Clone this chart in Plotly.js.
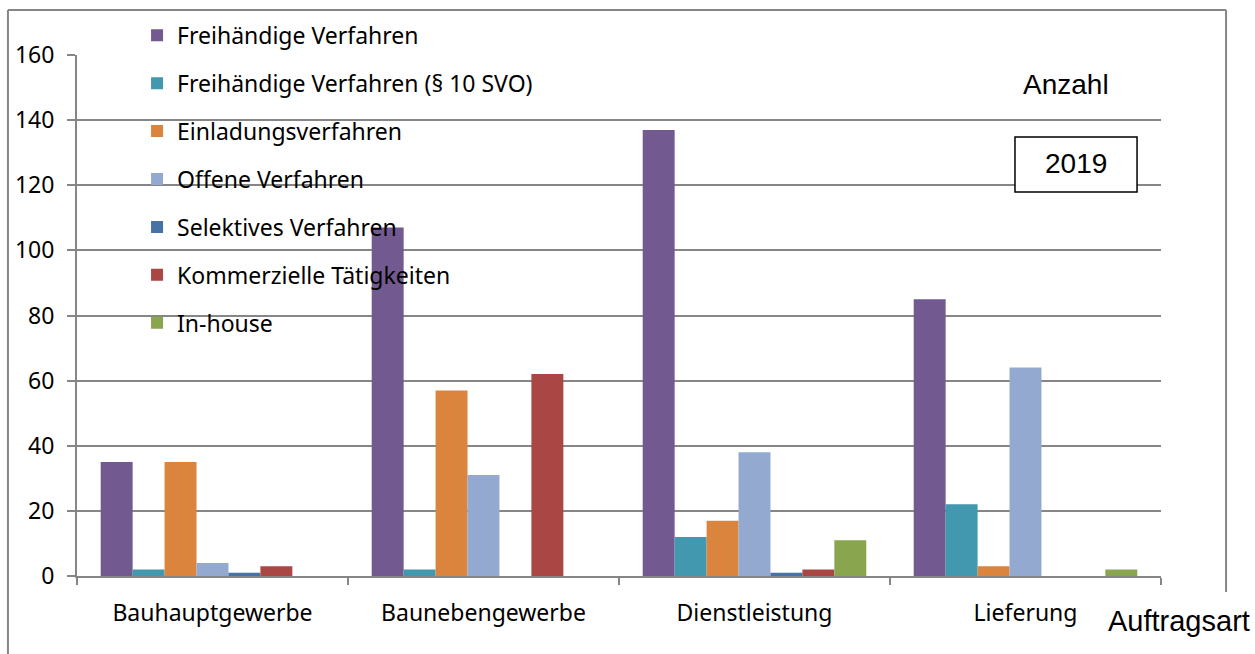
<!DOCTYPE html>
<html>
<head>
<meta charset="utf-8">
<script src="https://cdn.plot.ly/plotly-3.0.1.min.js"></script>
<style>html,body{margin:0;padding:0;background:#fff;}#chart{width:1255px;height:654px;}</style>
</head>
<body>
<div id="chart"></div>
<script>
const categories = ["Bauhauptgewerbe", "Baunebengewerbe", "Dienstleistung", "Lieferung"];
const seriesNames = ["Freihändige Verfahren", "Freihändige Verfahren (§ 10 SVO)", "Einladungsverfahren", "Offene Verfahren", "Selektives Verfahren", "Kommerzielle Tätigkeiten", "In-house"];
const freihaendig = [35, 107, 137, 85];
const freihaendig10 = [2, 2, 12, 22];
const einladung = [35, 57, 17, 3];
const offene = [4, 31, 38, 64];
const selektiv = [1, 0, 1, 0];
const kommerziell = [3, 62, 2, 0];
const inhouse = [0, 0, 11, 2];
const yTicks = [0, 20, 40, 60, 80, 100, 120, 140, 160];
const colors = ["#725990", "#4198AF", "#DB843D", "#93A9CF", "#4572A7", "#AA4643", "#89A54E"];
const seriesValues = [freihaendig, freihaendig10, einladung, offene, selektiv, kommerziell, inhouse];

const traces = seriesValues.map((vals, i) => ({
  type: "bar",
  name: seriesNames[i],
  x: categories,
  y: vals,
  legendgroup: "g" + i,
  marker: {color: colors[i], line: {width: 0}},
  hoverinfo: "x+y+name"
}));

const layout = {
  width: 1255, height: 654,
  margin: {l: 77, r: 94, t: 55, b: 78},
  paper_bgcolor: "#ffffff",
  plot_bgcolor: "#ffffff",
  barmode: "group",
  bargap: 0.175,
  bargroupgap: 0,
  font: {family: "Noto Sans, sans-serif", color: "#000"},
  showlegend: true,
  legend: {
    x: 0.0554, y: 1.079, xanchor: "left", yanchor: "top",
    bgcolor: "rgba(0,0,0,0)",
    font: {size: 23, family: "Noto Sans, sans-serif", color: "#000"},
    traceorder: "grouped",
    tracegroupgap: 15,
    itemwidth: 30,
    maxheight: 640
  },
  xaxis: {
    type: "category",
    tickson: "boundaries",
    ticks: "outside", ticklen: 7, tickcolor: "#868686", tickwidth: 2,
    showline: true, linecolor: "#868686", linewidth: 2,
    showgrid: false,
    tickfont: {size: 23, family: "Noto Sans, sans-serif", color: "#000"},
    ticklabelstandoff: 15,
    fixedrange: true
  },
  yaxis: {
    range: [0, 160],
    tickvals: yTicks,
    ticktext: yTicks.map(String),
    ticks: "outside", ticklen: 8, tickcolor: "#868686", tickwidth: 2,
    showline: true, linecolor: "#868686", linewidth: 2,
    showgrid: true, gridcolor: "#868686", gridwidth: 2,
    zeroline: false,
    tickfont: {size: 23, family: "Noto Sans, sans-serif", color: "#000"},
    ticklabelstandoff: 8,
    fixedrange: true
  },
  shapes: [
    {type: "line", xref: "paper", yref: "paper", x0: -0.0637, x1: 1.06, y0: 1.0864, y1: 1.0864, line: {color: "#868686", width: 2}},
    {type: "line", xref: "paper", yref: "paper", x0: -0.0637, x1: -0.0637, y0: 1.0864, y1: -0.2, line: {color: "#868686", width: 2}},
    {type: "line", xref: "paper", yref: "paper", x0: 1.06, x1: 1.06, y0: 1.0864, y1: -0.0307, line: {color: "#868686", width: 2}},
    {type: "rect", xref: "paper", yref: "paper", x0: 0.8653, x1: 0.9779, y0: 0.737, y1: 0.8426, line: {color: "#000", width: 1.5}, fillcolor: "#fff", layer: "above"}
  ],
  annotations: [
    {text: "Anzahl", xref: "paper", yref: "paper", x: 0.9124, y: 0.9443, xanchor: "center", yanchor: "middle", showarrow: false, font: {family: "Liberation Sans, Arial, sans-serif", size: 28, color: "#000"}},
    {text: "2019", xref: "paper", yref: "paper", x: 0.9216, y: 0.7908, xanchor: "center", yanchor: "middle", showarrow: false, font: {family: "Liberation Sans, Arial, sans-serif", size: 28, color: "#000"}},
    {text: "Auftragsart", xref: "paper", yref: "paper", x: 1.0166, y: -0.0864, xanchor: "center", yanchor: "middle", showarrow: false, font: {family: "Liberation Sans, Arial, sans-serif", size: 29, color: "#000"}}
  ]
};

Plotly.newPlot("chart", traces, layout, {displayModeBar: false});
</script>
</body>
</html>
